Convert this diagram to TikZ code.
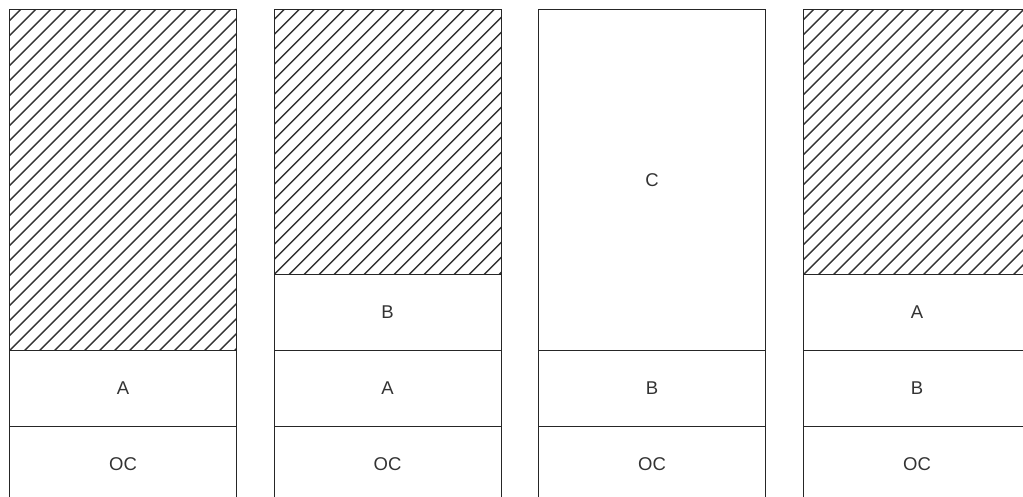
\documentclass[tikz,border=0pt]{standalone}
\usepackage{fontspec}
\setmainfont{Liberation Sans}
\begin{document}
\begin{tikzpicture}[x=1pt,y=-1pt,
  cell/.style={draw=black!85, line width=1.1pt, minimum width=227pt, minimum height=76pt,
    inner sep=0pt, anchor=north west, font=\fontsize{18.5}{20}\selectfont, text=black!80},
  tall/.style={minimum height=341pt},
  mid/.style={minimum height=265pt},
  hatch/.style={cell, path picture={
    \foreach \i in {-26,...,18}{
      \draw[line width=1.3pt, black!80] ([xshift=\i*15pt]path picture bounding box.south west) -- ++(420pt,420pt);}
  }}
]
\useasboundingbox (0,0) rectangle (1023,497);
% column 1
\node[hatch, tall] (h1) at (9,9) {};
\node[cell] (a1) at (9,350) {A};
\node[cell] (oc1) at (9,426) {OC};
% column 2
\node[hatch, mid] (h2) at (273.5,9) {};
\node[cell] (b2) at (273.5,274) {B};
\node[cell] (a2) at (273.5,350) {A};
\node[cell] (oc2) at (273.5,426) {OC};
% column 3
\node[cell, tall] (c3) at (538,9) {C};
\node[cell] (b3) at (538,350) {B};
\node[cell] (oc3) at (538,426) {OC};
% column 4
\node[hatch, mid] (h4) at (803,9) {};
\node[cell] (a4) at (803,274) {A};
\node[cell] (b4) at (803,350) {B};
\node[cell] (oc4) at (803,426) {OC};
\end{tikzpicture}
\end{document}
